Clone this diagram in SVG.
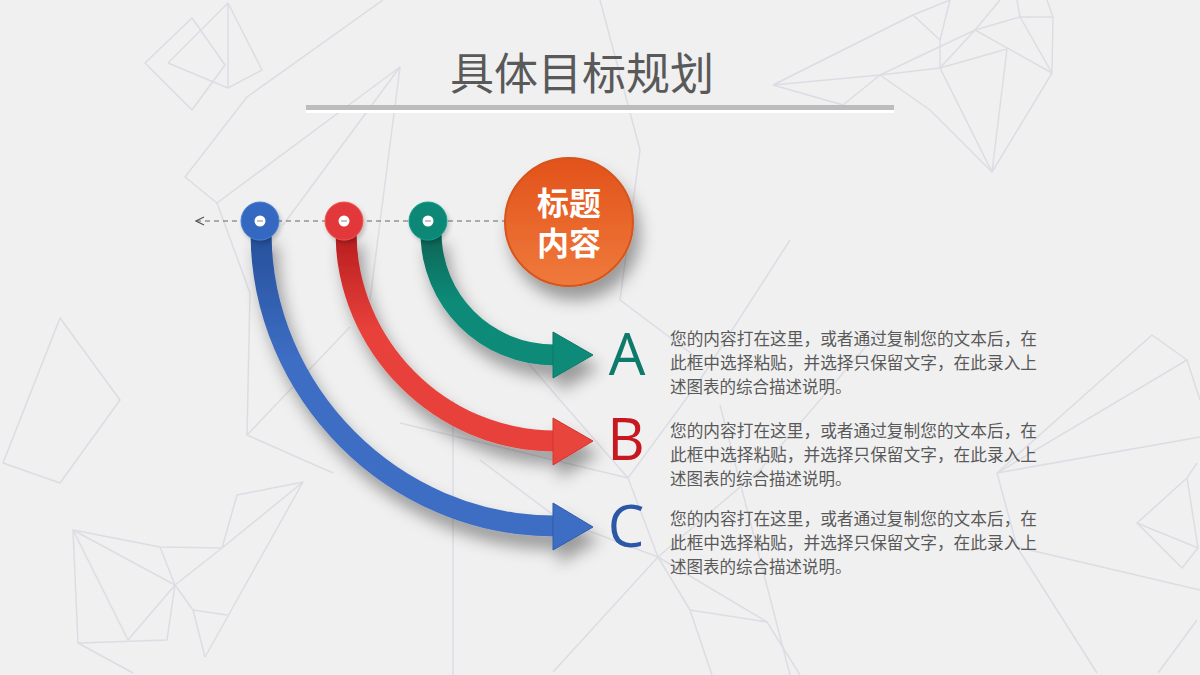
<svg xmlns="http://www.w3.org/2000/svg" width="1200" height="675" viewBox="0 0 1200 675">
<defs>
<style>
.bg{fill:none;stroke:#dcdce4;stroke-width:1.5;stroke-linejoin:round}
.para{font-family:"Noto Sans CJK SC","Noto Sans",sans-serif;font-size:16.5px;fill:#595959}
.letter{font-family:"Open Sans","Liberation Sans",sans-serif;font-size:58px}
.hole{fill:#ffffff;stroke:none}
.dash{stroke:#8a8a8a;stroke-width:1}
</style>
<filter id="sh" x="-30%" y="-30%" width="160%" height="170%">
<feDropShadow dx="6" dy="13" stdDeviation="8" flood-color="#000" flood-opacity="0.36"/>
</filter>
<filter id="shs" x="-30%" y="-30%" width="160%" height="160%">
<feDropShadow dx="2" dy="3" stdDeviation="2" flood-color="#000" flood-opacity="0.2"/>
</filter>
<linearGradient id="gOr" x1="0" y1="0" x2="0" y2="1">
<stop offset="0" stop-color="#e2521a"/>
<stop offset="1" stop-color="#ef7a3c"/>
</linearGradient>
<linearGradient id="gG" gradientUnits="userSpaceOnUse" x1="0" y1="235" x2="0" y2="300">
<stop offset="0" stop-color="#0a6455"/>
<stop offset="1" stop-color="#0e8a78"/>
</linearGradient>
<linearGradient id="gR" gradientUnits="userSpaceOnUse" x1="0" y1="235" x2="0" y2="330">
<stop offset="0" stop-color="#b81d1f"/>
<stop offset="1" stop-color="#e8413b"/>
</linearGradient>
<linearGradient id="gB" gradientUnits="userSpaceOnUse" x1="0" y1="235" x2="0" y2="360">
<stop offset="0" stop-color="#26509a"/>
<stop offset="1" stop-color="#3d6ec4"/>
</linearGradient>
<marker id="open" viewBox="0 0 10 10" refX="1" refY="5" markerWidth="10" markerHeight="10" markerUnits="userSpaceOnUse" orient="auto">
<polyline points="9,1 1,5 9,9" fill="none" stroke="#555" stroke-width="1.2"/>
</marker>
</defs>
<rect width="1200" height="675" fill="#f0f0f0"/>
<g id="background">
<polygon class="bg" points="145,63 192,18 225,65 192,110"/>
<polyline class="bg" points="168,63 228,88 262,70 228,3 168,63"/>
<line class="bg" x1="228" y1="3" x2="228" y2="88"/>
<polyline class="bg" points="383,0 247,97 185,177 217,203 400,67"/>
<polyline class="bg" points="400,67 283,225"/>
<polyline class="bg" points="400,67 370,300"/>
<polyline class="bg" points="217,203 250,293 247,435 333,473"/>
<polyline class="bg" points="247,435 350,327"/>
<polygon class="bg" points="60,318 120,400 60,483 3,463"/>
<polyline class="bg" points="303,482 237,495 222,548 160,547 73,530 78,643 167,640 175,585 222,548 303,482 205,657"/>
<polyline class="bg" points="73,530 175,585 193,610 205,657"/>
<polyline class="bg" points="73,530 128,640 175,585"/>
<polyline class="bg" points="160,547 175,585"/>
<polyline class="bg" points="193,610 227,615"/>
<polyline class="bg" points="78,643 133,673"/>
<polyline class="bg" points="773,85 913,15 950,0"/>
<polyline class="bg" points="773,85 880,75 940,68 1007,49"/>
<polyline class="bg" points="880,75 975,30 1020,17 1053,17 1052,73 992,172 930,110 880,75 843,105 773,85"/>
<polyline class="bg" points="913,15 940,40 940,68 992,172"/>
<polyline class="bg" points="940,40 950,0"/>
<polyline class="bg" points="1007,49 992,172"/>
<polyline class="bg" points="975,30 1052,73"/>
<polyline class="bg" points="940,68 975,30 1000,0"/>
<polyline class="bg" points="1020,17 1017,0"/>
<polyline class="bg" points="1053,17 1047,0"/>
<polyline class="bg" points="1020,17 1052,73"/>
<polyline class="bg" points="997,473 1200,437"/>
<polyline class="bg" points="997,473 1187,360 1200,400"/>
<polyline class="bg" points="997,473 1152,335 1187,360"/>
<polyline class="bg" points="997,473 1017,547 1200,590"/>
<polyline class="bg" points="1017,547 1097,673"/>
<polygon class="bg" points="1137,523 1187,478 1198,548 1182,568"/>
<polyline class="bg" points="1137,523 1198,548"/>
<polyline class="bg" points="1187,478 1197,463"/>
<polyline class="bg" points="1197,620 1158,673"/>
<polyline class="bg" points="453,400 453,675"/>
<polyline class="bg" points="400,423 628,478 658,557 690,610 712,675"/>
<polyline class="bg" points="553,672 658,557 767,622 690,610"/>
<polyline class="bg" points="628,478 700,380 790,240"/>
<polyline class="bg" points="658,557 760,470 880,330"/>
<polyline class="bg" points="767,622 800,675"/>
<polyline class="bg" points="480,460 560,520 658,557"/>
<polyline class="bg" points="500,330 560,400 628,478"/>
<polyline class="bg" points="720,405 790,675"/>
<polyline class="bg" points="600,0 640,150 620,300"/>
<polyline class="bg" points="620,300 700,360"/>
</g>
<g id="title">
<text x="582" y="90" text-anchor="middle" font-family="Noto Sans CJK SC,Noto Sans,sans-serif" font-size="44" fill="#595959">具体目标规划</text>
<rect x="306" y="105" width="588" height="5" fill="#bcbcbc"/>
<rect x="306" y="110" width="588" height="3" fill="#ffffff"/>
</g>
<g id="connectors">
<line x1="196" y1="221" x2="505" y2="221" stroke="#666" stroke-width="1.2" stroke-dasharray="5,4" marker-start="url(#open)"/>
<g id="arrow-c" filter="url(#sh)">
<path d="M261,232 C261,392 393,526 555,526" fill="none" stroke="url(#gB)" stroke-width="21"/>
<polygon points="553,503 593,527 553,550" fill="#3d6ec4" stroke="#2f5aa8" stroke-width="1"/>
</g>
<g id="arrow-b" filter="url(#sh)">
<path d="M346,232 C346,345 439,441 555,441" fill="none" stroke="url(#gR)" stroke-width="21"/>
<polygon points="553,418 593,441 553,465" fill="#e8443d" stroke="#cf3430" stroke-width="1"/>
</g>
<g id="arrow-a" filter="url(#sh)">
<path d="M431,232 C431,300 485,355 555,355" fill="none" stroke="url(#gG)" stroke-width="21"/>
<polygon points="553,332 593,355 553,378" fill="#0f8a78" stroke="#0b7666" stroke-width="1"/>
</g>
</g>
<g id="node-blue" filter="url(#shs)">
<circle cx="260" cy="221" r="19" fill="#3467c0" stroke="#4a7fd4" stroke-width="1"/>
<circle class="hole" cx="260" cy="221" r="5.5"/>
<line class="dash" x1="257" y1="221" x2="263" y2="221"/>
</g>
<g id="node-red" filter="url(#shs)">
<circle cx="344" cy="221" r="19" fill="#e3383a" stroke="#ef5450" stroke-width="1"/>
<circle class="hole" cx="344" cy="221" r="5.5"/>
<line class="dash" x1="341" y1="221" x2="347" y2="221"/>
</g>
<g id="node-green" filter="url(#shs)">
<circle cx="428" cy="221" r="19" fill="#0a8877" stroke="#13a08c" stroke-width="1"/>
<circle class="hole" cx="428" cy="221" r="5.5"/>
<line class="dash" x1="425" y1="221" x2="431" y2="221"/>
</g>
<g id="node-title">
<circle cx="569" cy="222" r="64" fill="url(#gOr)" stroke="#d5541e" stroke-width="2" filter="url(#sh)"/>
<text text-anchor="middle" font-family="Noto Sans CJK SC,sans-serif" font-size="32" font-weight="bold" fill="#ffffff"><tspan x="569" y="215">标题</tspan><tspan x="569" y="255">内容</tspan></text>
</g>
<g id="item-a">
<text class="letter" x="627" y="375" text-anchor="middle" fill="#0d7a6b">A</text>
<text class="para" x="670" y="345" textLength="367" lengthAdjust="spacingAndGlyphs">您的内容打在这里，或者通过复制您的文本后，在</text>
<text class="para" x="670" y="369" textLength="367" lengthAdjust="spacingAndGlyphs">此框中选择粘贴，并选择只保留文字，在此录入上</text>
<text class="para" x="670" y="393">述图表的综合描述说明。</text>
</g>
<g id="item-b">
<text class="letter" x="626" y="460" text-anchor="middle" fill="#c8181f">B</text>
<text class="para" x="670" y="437" textLength="367" lengthAdjust="spacingAndGlyphs">您的内容打在这里，或者通过复制您的文本后，在</text>
<text class="para" x="670" y="461" textLength="367" lengthAdjust="spacingAndGlyphs">此框中选择粘贴，并选择只保留文字，在此录入上</text>
<text class="para" x="670" y="485">述图表的综合描述说明。</text>
</g>
<g id="item-c">
<text class="letter" x="626" y="547" text-anchor="middle" fill="#2b58a6">C</text>
<text class="para" x="670" y="525" textLength="367" lengthAdjust="spacingAndGlyphs">您的内容打在这里，或者通过复制您的文本后，在</text>
<text class="para" x="670" y="549" textLength="367" lengthAdjust="spacingAndGlyphs">此框中选择粘贴，并选择只保留文字，在此录入上</text>
<text class="para" x="670" y="573">述图表的综合描述说明。</text>
</g>
</svg>
